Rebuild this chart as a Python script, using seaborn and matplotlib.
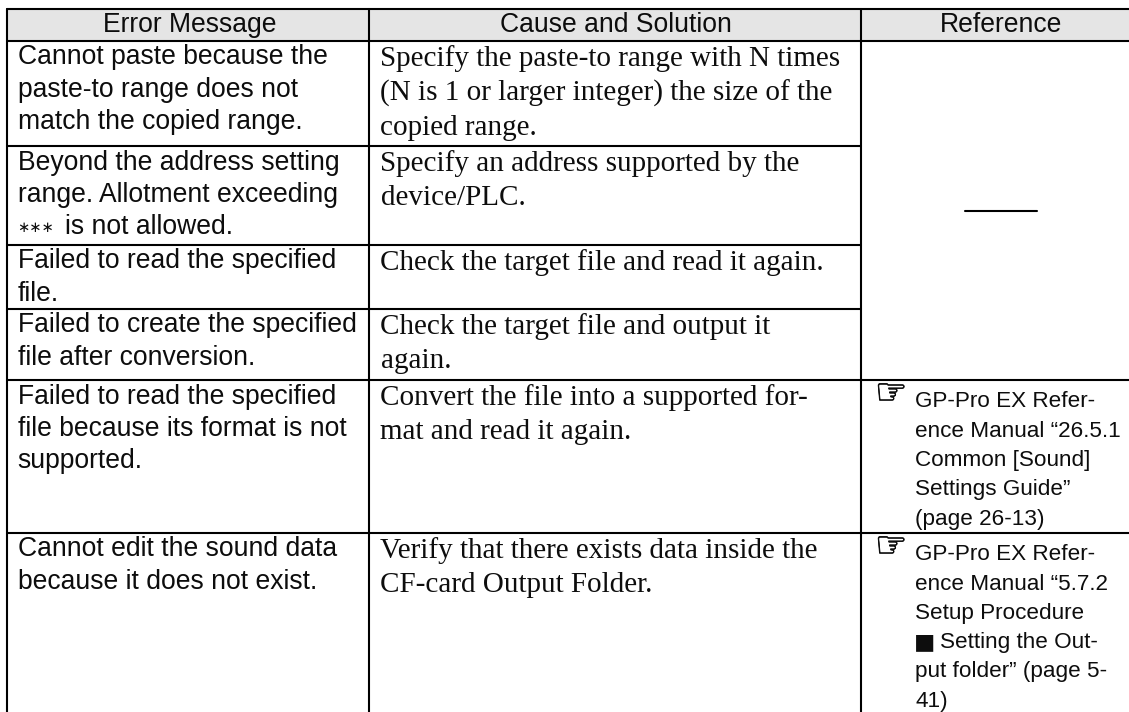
import pandas as pd
import matplotlib
matplotlib.use('Agg')
import matplotlib.pyplot as plt
import matplotlib.patheffects as pe
import seaborn as sns

headers = ['Error Message', 'Cause and Solution', 'Reference']

stars = '\u2217\u2217\u2217'
square = '\u25a0'
hand = '\u261e'

messages = [
    ['Cannot paste because the', 'paste-to range does not', 'match the copied range.'],
    ['Beyond the address setting', 'range. Allotment exceeding', stars + 'is not allowed.'],
    ['Failed to read the specified', 'file.'],
    ['Failed to create the specified', 'file after conversion.'],
    ['Failed to read the specified', 'file because its format is not', 'supported.'],
    ['Cannot edit the sound data', 'because it does not exist.'],
]
causes = [
    ['Specify the paste-to range with N times', '(N is 1 or larger integer) the size of the', 'copied range.'],
    ['Specify an address supported by the', 'device/PLC.'],
    ['Check the target file and read it again.'],
    ['Check the target file and output it', 'again.'],
    ['Convert the file into a supported for-', 'mat and read it again.'],
    ['Verify that there exists data inside the', 'CF-card Output Folder.'],
]
references = [
    [], [], [], [],
    ['GP-Pro EX Refer-', 'ence Manual \u201c26.5.1', 'Common [Sound]', 'Settings Guide\u201d', '(page 26-13)'],
    ['GP-Pro EX Refer-', 'ence Manual \u201c5.7.2', 'Setup Procedure', square + 'Setting the Out-', 'put folder\u201d (page 5-', '41)'],
]

# table layout in pixels
W, H = 1129, 712
col_edges = [7, 369, 861]
header_centers = [190, 616, 1001]
top = 9
row_edges = [41, 146, 245, 309, 380, 533, 712]
ink = '#0d0d0d'

sans = ['Liberation Sans', 'DejaVu Sans']
serif = ['Liberation Serif', 'DejaVu Sans']

sns.set_theme(style='white')
fig = plt.figure(figsize=(W / 100, H / 100), dpi=100)
ax = fig.add_axes([0, 0, 1, 1])
ax.set_xlim(0, W)
ax.set_ylim(H, 0)

ax.axhspan(top, row_edges[0], xmin=col_edges[0] / W, xmax=1, color='#e5e5e5', lw=0)

# every rule is one group in a long table
rules = []
def add_rule(name, x0, y0, x1, y1):
    rules.append({'rule': name, 'x': x0, 'y': y0})
    rules.append({'rule': name, 'x': x1, 'y': y1})

add_rule('top', col_edges[0], top, W, top)
for i, y in enumerate(row_edges[:-1]):
    # the reference column is merged over rows 1-4
    right = col_edges[2] if i in (1, 2, 3) else W
    add_rule(f'row{i}', col_edges[0], y, right, y)
for i, x in enumerate(col_edges):
    add_rule(f'col{i}', x, top, x, H)
add_rule('dash', 965, 211, 1037, 211)

sns.lineplot(data=pd.DataFrame(rules), x='x', y='y', units='rule', estimator=None,
             sort=False, color='black', lw=1.5, ax=ax, legend=False)

for x, label in zip(header_centers, headers):
    ax.text(x, 32, label, ha='center', va='baseline', fontsize=19.1, family=sans, color=ink)

# body text, one text per wrapped line
for r in range(len(messages)):
    for i, line in enumerate(messages[r]):
        y = row_edges[r] + 23.5 + i * 32.4
        if line.startswith(stars):
            ax.text(17.5, y - 2.5, stars, va='baseline', fontsize=10.5, family=['DejaVu Sans'], color=ink)
            ax.text(65, y, line[len(stars):], va='baseline', fontsize=19.1, family=sans, color=ink)
        else:
            ax.text(17.5, y, line, va='baseline', fontsize=19.1, family=sans, color=ink)
    for i, line in enumerate(causes[r]):
        ax.text(380.5, row_edges[r] + 24.7 + i * 34.7, line, va='baseline', fontsize=21, family=serif, color=ink)
    for i, line in enumerate(references[r]):
        y = row_edges[r] + 27.3 + i * 29.3
        if line.startswith(square):
            ax.text(914, y, square, va='baseline', fontsize=16.2, family=['DejaVu Sans'], color=ink)
            ax.text(940, y, line[len(square):], va='baseline', fontsize=16.2, family=sans, color=ink)
        else:
            ax.text(915, y, line, va='baseline', fontsize=16.2, family=sans, color=ink)
    if references[r]:
        ax.text(875, row_edges[r] + 24, hand, va='baseline', fontsize=26, family=['DejaVu Sans'], color=ink,
                path_effects=[pe.withStroke(linewidth=0.5, foreground=ink)])

ax.set_axis_off()
fig.savefig('out.png', dpi=100)
